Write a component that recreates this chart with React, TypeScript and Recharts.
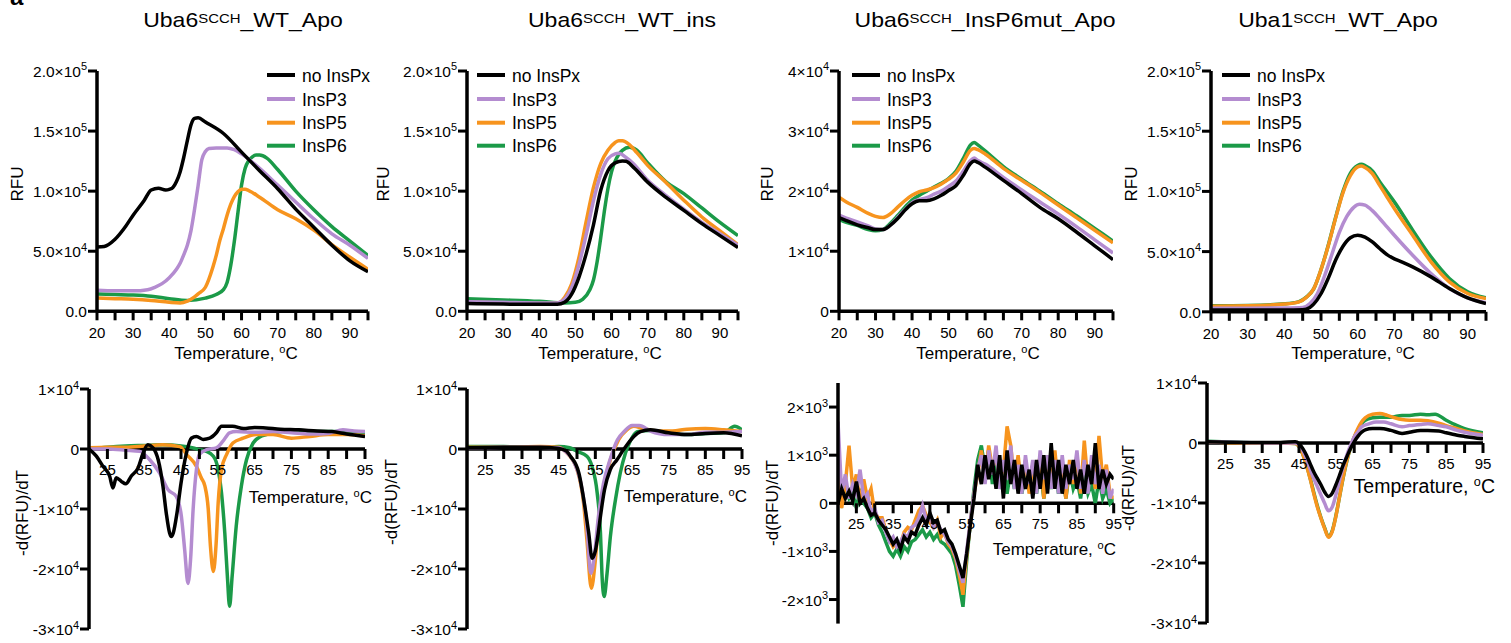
import React from 'react';
import { LineChart, Line, XAxis, YAxis, ReferenceLine } from 'recharts';

type Pt = [number, number];

const FONT = "'Liberation Sans', Arial, Helvetica, sans-serif";

// ---------- categories / labels ----------
const SERIES_NAMES = ['no InsPx', 'InsP3', 'InsP5', 'InsP6'];
const SERIES_COLORS = ['#000000', '#b48cd0', '#f7941e', '#1b9a48'];
const PANEL_TITLES: [string, string, string][] = [
  ['Uba6', 'SCCH', '_WT_Apo'],
  ['Uba6', 'SCCH', '_WT_ins'],
  ['Uba6', 'SCCH', '_InsP6mut_Apo'],
  ['Uba1', 'SCCH', '_WT_Apo'],
];
const X_LABEL = 'Temperature, ';
const TOP_X_TICKS = [20, 25, 30, 35, 40, 45, 50, 55, 60, 65, 70, 75, 80, 85, 90, 95];
const TOP_X_LABELS = [20, 30, 40, 50, 60, 70, 80, 90];
const BOTTOM_X_TICKS = [25, 30, 35, 40, 45, 50, 55, 60, 65, 70, 75, 80, 85, 90, 95];
const BOTTOM_X_LABELS = [25, 35, 45, 55, 65, 75, 85, 95];

const RFU_TICKS = [0, 50000, 100000, 150000, 200000];
const RFU_TICK_LABELS: [string, string][] = [['0.0', ''], ['5.0×10', '4'], ['1.0×10', '5'], ['1.5×10', '5'], ['2.0×10', '5']];
const MUT_RFU_TICKS = [0, 10000, 20000, 30000, 40000];
const MUT_RFU_TICK_LABELS: [string, string][] = [['0', ''], ['1×10', '4'], ['2×10', '4'], ['3×10', '4'], ['4×10', '4']];
const DERIV_TICKS = [-30000, -20000, -10000, 0, 10000];
const DERIV_TICK_LABELS: [string, string][] = [['-3×10', '4'], ['-2×10', '4'], ['-1×10', '4'], ['0', ''], ['1×10', '4']];
const MUT_DERIV_TICKS = [-2000, -1000, 0, 1000, 2000];
const MUT_DERIV_TICK_LABELS: [string, string][] = [['-2×10', '3'], ['-1×10', '3'], ['0', ''], ['1×10', '3'], ['2×10', '3']];

// ---------- Uba6 WT Apo : RFU ----------
const apoRfuNone: Pt[] = [[20,53500],[22,54000],[25,60000],[28,71000],[30,80000],[33,92000],[35,101000],[37,102500],[39,101000],[40,101500],[41,103000],[42,108000],[43,116000],[44,128000],[45,142000],[46,155000],[47,160500],[48,161000],[50,157500],[55,148000],[60,132500],[65,117000],[70,102000],[75,85000],[80,70000],[85,55000],[90,42000],[95,33000]];
const apoRfuP3: Pt[] = [[20,17500],[25,17000],[30,17000],[34,18000],[36,20000],[38,23000],[40,28000],[42,35000],[43,40000],[44,47000],[45,55000],[46,67000],[47,85000],[48,105000],[49,126000],[50,133000],[51,135500],[53,136000],[56,136000],[58,134500],[60,131000],[65,119000],[70,105000],[75,91000],[80,77000],[85,64500],[90,55000],[95,44000]];
const apoRfuP5: Pt[] = [[20,11000],[25,10500],[30,10000],[35,9000],[40,7500],[43,7000],[45,8500],[47,12000],[48,14500],[50,20000],[52,36000],[53,46500],[54,59000],[55,69000],[56,80000],[57,89000],[58,95500],[59,99500],[60,101500],[61,101500],[62,100500],[65,95000],[70,84500],[75,77000],[80,67500],[85,55500],[90,45000],[95,35000]];
const apoRfuP6: Pt[] = [[20,14500],[25,14000],[30,13500],[35,12500],[40,10500],[45,9000],[50,11000],[53,14000],[55,18000],[56,24000],[57,38000],[58,58000],[59,82000],[60,105000],[61,119000],[62,125500],[63,128500],[64,130000],[65,130000],[67,127500],[70,118000],[75,100000],[80,84500],[85,70500],[90,58500],[95,46500]];

// ---------- Uba6 WT Apo : -dRFU/dT ----------
const apoDerNone: Pt[] = [[20,0],[22,-1200],[23.8,-2900],[25.6,-4500],[26.5,-6500],[27.4,-4800],[28.8,-5400],[30,-5800],[31.5,-4500],[33.3,-3200],[34.7,-700],[36,700],[37.4,200],[38.8,-1800],[40.1,-6200],[41,-10700],[41.9,-14000],[42.4,-14600],[42.9,-14000],[43.9,-10700],[45,-5700],[46.4,-900],[47.8,1800],[49.2,2100],[51,1600],[52.8,1800],[54.6,2700],[56,3800],[59,3800],[62,3400],[65,3600],[68,3500],[72,3300],[77,3200],[82,3000],[86,2900],[90,2500],[95,2100]];
const apoDerP3: Pt[] = [[20,0],[25,0],[30,-200],[33.8,-400],[36.5,-1800],[39.2,-4000],[41.5,-6800],[43.7,-7900],[45.1,-11200],[46,-16800],[46.9,-22400],[47.6,-18400],[48.3,-10000],[49.2,-3400],[50,-900],[52,-100],[54.6,200],[56.4,1300],[58.2,2700],[60,2900],[65,2800],[70,2900],[75,2700],[80,2500],[85,2600],[89,3200],[92,3000],[95,2900]];
const apoDerP5: Pt[] = [[20,200],[25,300],[30,300],[35,500],[40,700],[44.7,400],[46.5,-900],[49.2,-2900],[50.5,-4800],[51.5,-6200],[52.4,-10000],[53,-16200],[53.8,-20400],[54.5,-16200],[55.1,-9000],[56,-3400],[57.4,-900],[59.1,1000],[61.9,1800],[65.5,2400],[70,2400],[75,1800],[80,2100],[85,2400],[90,2400],[95,2200]];
const apoDerP6: Pt[] = [[20,0],[25,300],[30,500],[35,600],[40,700],[45,500],[48,200],[50,-100],[51.9,-400],[53.8,-1200],[55.1,-3400],[56,-7300],[56.9,-14000],[57.6,-21200],[58.2,-26200],[58.9,-21200],[60,-12900],[61.4,-6200],[62.8,-1800],[64.6,1000],[66.4,2000],[68.2,2400],[72,2900],[76,3200],[80,2900],[85,2900],[90,2900],[95,2700]];

// ---------- Uba6 WT ins : RFU ----------
const insRfuNone: Pt[] = [[20,6500],[30,6000],[40,5800],[45,5800],[47,7500],[49,14500],[51,28500],[53,48000],[55,72000],[57,100500],[59,117000],[61,123500],[63,125000],[64,124800],[66,120000],[70,107500],[75,95000],[80,84000],[85,73000],[90,63000],[95,53000]];
const insRfuP3: Pt[] = [[20,8000],[30,7500],[40,7000],[45,7000],[47,10000],[49,20000],[51,39000],[53,64000],[55,92000],[57,114000],[59,127000],[61,131000],[62,131500],[64,128000],[66,123000],[70,109000],[75,96500],[80,85000],[85,74000],[90,64500],[95,55000]];
const insRfuP5: Pt[] = [[20,7500],[30,7000],[40,6500],[45,6800],[47,11500],[49,23000],[51,45000],[53,75000],[55,103000],[57,123000],[59,134000],[61,140500],[62,142000],[63,142000],[65,138500],[67,132000],[70,121500],[75,107500],[80,92500],[85,78500],[90,67000],[95,55500]];
const insRfuP6: Pt[] = [[20,10500],[30,9500],[40,8300],[47,7000],[50,7500],[52,10000],[54,18000],[55,26000],[56,41000],[57,61000],[58,83000],[59,102000],[60,116000],[61,125000],[62,130500],[63,134000],[65,136500],[67,134000],[70,123500],[75,108000],[80,98000],[85,86000],[90,74000],[95,63000]];

// ---------- Uba6 WT ins : -dRFU/dT ----------
const insDerNone: Pt[] = [[20,200],[30,300],[40,300],[45,100],[47,-300],[48.2,-1200],[50.5,-4000],[52.3,-10200],[53.2,-14000],[54.1,-18200],[55,-17000],[55.8,-14000],[56.4,-11200],[57.5,-6800],[59.1,-3400],[60.9,-1800],[62.7,-100],[65.5,2100],[67.3,2900],[70,3200],[75,2700],[80,2400],[85,2600],[90,2700],[95,2200]];
const insDerP3: Pt[] = [[20,200],[30,300],[40,300],[45,200],[47,-500],[49,-2000],[51,-5500],[52.5,-11500],[53.8,-20700],[54.8,-17500],[55.8,-11500],[57.2,-5800],[59,-1800],[61,1500],[63,3000],[65,3900],[67,3900],[70,3000],[75,2400],[80,2400],[85,2800],[90,2800],[95,2900]];
const insDerP5: Pt[] = [[20,300],[30,300],[40,400],[45,300],[47,-500],[50,-3400],[51.8,-9000],[52.7,-15100],[53.9,-23200],[55,-18500],[55.9,-11800],[57.3,-6200],[59.1,-1800],[61.4,1600],[63.6,3200],[65.5,3800],[68,3400],[72,3000],[76,3000],[80,3300],[85,3400],[90,3200],[95,2900]];
const insDerP6: Pt[] = [[20,400],[30,400],[40,300],[45,400],[48,200],[50,-400],[52.7,-1200],[54.1,-2900],[55.5,-7300],[56.4,-14000],[56.8,-20700],[57.4,-24600],[58.2,-20700],[59.1,-14600],[60.5,-8400],[61.8,-4000],[63.2,-700],[64.5,1300],[66.4,2900],[70,3100],[75,2700],[80,2400],[85,2600],[90,2700],[93,3800],[95,3200]];

// ---------- Uba6 InsP6mut Apo : RFU ----------
const mutRfuNone: Pt[] = [[20,15600],[22,15100],[25,14400],[28,13900],[30,13600],[32,13600],[34,14300],[36,15400],[38,16800],[40,17900],[42,18400],[44,18400],[46,18700],[48,19300],[50,20100],[52,20900],[54,22600],[56,24600],[57,25000],[58,24800],[60,24000],[65,21800],[70,19600],[75,17300],[80,15400],[85,13200],[90,10900],[95,8600]];
const mutRfuP3: Pt[] = [[20,16000],[22,15500],[25,14900],[28,14200],[30,13700],[32,13600],[34,14300],[36,15600],[38,16900],[40,18100],[42,18600],[44,18900],[46,19500],[48,20000],[50,20800],[52,21700],[54,23300],[56,25100],[57,25500],[58,25100],[60,24500],[65,22300],[70,20200],[75,18200],[80,16200],[85,14100],[90,11900],[95,9700]];
const mutRfuP5: Pt[] = [[20,19000],[22,18200],[25,17300],[28,16300],[30,15800],[32,15600],[34,16200],[36,17300],[38,18400],[40,19300],[42,19900],[44,20200],[46,20600],[48,21200],[50,22000],[52,23000],[54,24800],[56,26800],[57,27100],[58,26900],[60,26200],[65,23800],[70,21800],[75,19800],[80,17700],[85,15600],[90,13500],[95,11400]];
const mutRfuP6: Pt[] = [[20,15300],[22,14800],[25,14300],[28,13600],[30,13400],[32,13600],[34,14600],[36,15900],[38,17300],[40,18500],[42,19300],[44,20000],[46,20700],[48,21300],[50,22100],[52,23300],[54,25400],[56,27700],[57,28100],[58,27700],[60,26700],[65,24100],[70,22000],[75,20000],[80,17900],[85,15900],[90,13800],[95,11700]];

// ---------- Uba6 InsP6mut Apo : -dRFU/dT (1 °C readings) ----------
const MUT_DER_T = [20,21,22,23,24,25,26,27,28,29,30,31,32,33,34,35,36,37,38,39,40,41,42,43,44,45,46,47,48,49,50,51,52,53,54,55,56,57,58,59,60,61,62,63,64,65,66,67,68,69,70,71,72,73,74,75,76,77,78,79,80,81,82,83,84,85,86,87,88,89,90,91,92,93,94,95];
const mutDerNone = [0,300,100,250,50,450,0,100,-100,-250,-200,-350,-450,-550,-700,-850,-750,-950,-700,-800,-600,-650,-450,-300,-450,-200,-400,-350,-600,-550,-750,-850,-1050,-1300,-1550,-1050,-450,100,800,400,1000,500,900,300,1000,100,1100,400,900,200,800,300,700,100,900,300,1000,200,1250,300,900,200,800,400,900,300,700,200,800,400,1250,300,700,400,600,500];
const mutDerP3 = [1700,200,600,100,400,200,700,100,200,-200,-100,-400,-350,-600,-800,-700,-900,-800,-650,-700,-500,-450,-300,-50,-350,-300,-500,-400,-550,-650,-800,-900,-1100,-1400,-1650,-1000,-350,200,700,1000,400,1100,600,1200,300,900,500,1200,300,800,200,1000,400,900,200,1100,500,1000,300,900,200,1000,300,800,500,1100,300,900,200,1000,400,800,200,700,100,300];
const mutDerP5 = [800,-100,400,1200,300,600,0,500,100,300,-200,-300,-300,-550,-750,-900,-800,-850,-600,-500,-550,-350,-150,-50,-250,-400,-500,-350,-700,-600,-850,-950,-1150,-1500,-1900,-1100,-400,200,600,1100,500,1200,700,1000,500,700,1600,1200,400,1000,300,900,200,800,500,1000,100,800,400,1100,300,700,100,900,400,1000,200,1300,400,800,300,1400,500,800,200,100];
const mutDerP6 = [200,0,300,100,200,-100,300,0,-100,-300,-200,-450,-600,-800,-1000,-1100,-950,-1100,-900,-1000,-800,-750,-650,-550,-700,-600,-750,-650,-800,-850,-950,-1050,-1300,-1700,-2150,-1200,-400,300,900,1200,700,1100,400,900,300,800,200,700,300,900,200,600,300,800,200,700,100,600,300,800,200,600,100,700,300,500,100,600,200,400,0,500,100,300,0,100];

// ---------- Uba1 WT Apo : RFU ----------
const uba1RfuNone: Pt[] = [[20,1500],[30,1500],[40,1500],[45,1800],[46,2200],[48,6400],[50,15000],[52,28000],[54,43000],[56,54500],[58,61500],[60,63600],[62,62000],[64,58000],[66,52600],[68,47500],[70,44000],[72,41500],[75,37300],[80,29000],[85,19400],[90,11600],[95,6900]];
const uba1RfuP3: Pt[] = [[20,3000],[30,3000],[40,3200],[45,3600],[47,6900],[49,15000],[51,30000],[53,48000],[55,66000],[57,79000],[59,87000],[60.5,89400],[62,88500],[64,84000],[66,77500],[68,70500],[70,63600],[75,47000],[80,31800],[85,19400],[90,11600],[95,7500]];
const uba1RfuP5: Pt[] = [[20,4700],[30,5000],[40,6400],[44,8300],[46,12000],[48,19000],[50,35000],[52,55000],[54,78000],[56,99000],[58,113000],[60,120300],[61,121000],[62,119800],[64,114800],[66,105000],[68,95400],[70,85800],[75,63600],[80,41500],[85,24900],[90,15200],[95,11000]];
const uba1RfuP6: Pt[] = [[20,5000],[30,5300],[40,6600],[44,8500],[46,12200],[48,19000],[50,35000],[52,55500],[54,78500],[56,100000],[58,115000],[60,121500],[61,122500],[62,121500],[64,117000],[66,108000],[68,99600],[70,91300],[75,67800],[80,45600],[85,27700],[90,16600],[95,11600]];

// ---------- Uba1 WT Apo : -dRFU/dT ----------
const uba1DerNone: Pt[] = [[20,200],[30,100],[40,100],[44,200],[45,-100],[46,-900],[47,-2000],[48,-3400],[49,-4800],[50,-5900],[51,-7000],[52,-8200],[53,-8900],[54,-8400],[55,-7000],[56,-5400],[57,-3700],[58,-2300],[59,-900],[60,200],[61,1100],[62,1800],[63,2200],[65,2400],[67,2400],[70,2100],[73,1600],[75,1800],[78,2100],[80,2100],[83,2000],[85,1700],[88,1300],[90,1100],[95,700]];
const uba1DerP3: Pt[] = [[20,200],[30,100],[40,0],[44,0],[45,-300],[46,-1200],[47,-2600],[48,-4300],[49,-5900],[50,-7300],[51,-8700],[52,-10100],[53,-11300],[54,-10700],[55,-8700],[56,-6200],[57,-4000],[58,-2000],[59,-400],[60,1000],[61,1800],[62,2700],[64,3200],[66,3500],[68,3500],[70,3200],[73,2700],[75,2900],[78,3100],[80,3200],[83,2900],[85,2700],[88,2100],[90,1800],[95,1300]];
const uba1DerP5: Pt[] = [[20,200],[30,0],[40,0],[44,-100],[45,-600],[46,-1800],[47,-3700],[48,-5900],[49,-8400],[50,-10700],[51,-12600],[52,-14300],[53,-15700],[54,-14800],[55,-12300],[56,-9000],[57,-5700],[58,-2900],[59,-700],[60,1000],[61,2400],[62,3500],[63,4200],[65,4800],[67,4900],[69,4600],[71,4200],[73,3900],[75,3800],[78,3800],[80,3700],[83,3300],[85,2900],[88,2400],[90,2000],[95,1400]];
const uba1DerP6: Pt[] = [[20,300],[30,100],[40,0],[44,-100],[45,-600],[46,-1800],[47,-3600],[48,-5800],[49,-8200],[50,-10500],[51,-12500],[52,-14200],[53,-15600],[54,-14700],[55,-12200],[56,-9000],[57,-5800],[58,-3000],[59,-800],[60,900],[61,2200],[62,3200],[63,3800],[65,4200],[67,4300],[70,4300],[73,4600],[75,4600],[78,4800],[80,4700],[82,4800],[85,3800],[88,2900],[90,2400],[95,1700]];

// ---------- helpers ----------
const zip = (t: number[], v: number[]): Pt[] => t.map((x, i) => [x, v[i]] as Pt);

type Box = { x0: number; x1: number; y0: number; y1: number };
type PanelProps = {
  box: Box;
  yDomain: [number, number];
  yTicks: number[];
  yLabels: [string, string][];
  series: Pt[][]; // order: none, P3, P5, P6
  deriv: boolean;
  curve: 'monotone' | 'linear';
};

const PAD_L = 100, PAD_R = 15, PAD_T = 15, PAD_B = 45, XH = 30;

function makeYTick(ticks: number[], labels: [string, string][]) {
  return (props: any) => {
    const { x, y, payload } = props;
    const i = ticks.indexOf(payload.value);
    if (i < 0) return <g />;
    const [main, sup] = labels[i];
    return (
      <text x={x} y={y + 6} textAnchor="end" fontSize={15.5} fill="#000" fontFamily={FONT}>
        {main}
        {sup ? <tspan fontSize={11} dy={-6.5}>{sup}</tspan> : null}
      </text>
    );
  };
}

function makeTopXTick() {
  return (props: any) => {
    const { x, y, payload } = props;
    if (!TOP_X_LABELS.includes(payload.value)) return <g />;
    return (
      <text x={x} y={y + 16} textAnchor="middle" fontSize={15} fill="#000" fontFamily={FONT}>
        {payload.value}
      </text>
    );
  };
}

function makeZeroXTick(zeroY: number) {
  return (props: any) => {
    const { x, payload } = props;
    return (
      <g>
        <line x1={x} x2={x} y1={zeroY} y2={zeroY + 10} stroke="#000" strokeWidth={3} />
        {BOTTOM_X_LABELS.includes(payload.value) ? (
          <text x={x} y={zeroY + 26} textAnchor="middle" fontSize={15} fill="#000" fontFamily={FONT}>
            {payload.value}
          </text>
        ) : null}
      </g>
    );
  };
}

function Panel({ box, yDomain, yTicks, yLabels, series, deriv, curve }: PanelProps) {
  const w = box.x1 - box.x0;
  const h = box.y1 - box.y0;
  const left = box.x0 - PAD_L;
  const top = box.y0 - PAD_T;
  const zeroLocal = PAD_T + ((yDomain[1] - 0) / (yDomain[1] - yDomain[0])) * h;
  const drawOrder = [3, 2, 1, 0];
  return (
    <div style={{ position: 'absolute', left, top }}>
      <LineChart
        width={w + PAD_L + PAD_R}
        height={h + PAD_T + PAD_B}
        margin={{ top: PAD_T, right: PAD_R, bottom: PAD_B - XH, left: 0 }}
      >
        <XAxis
          type="number"
          dataKey="t"
          domain={[20, 95]}
          ticks={deriv ? BOTTOM_X_TICKS : TOP_X_TICKS}
          interval={0}
          height={XH}
          allowDataOverflow
          axisLine={deriv ? false : { stroke: '#000', strokeWidth: 3.5 }}
          tickLine={deriv ? false : { stroke: '#000', strokeWidth: 3 }}
          tickSize={deriv ? 0 : 9}
          tickMargin={2}
          tick={deriv ? makeZeroXTick(zeroLocal) : makeTopXTick()}
        />
        <YAxis
          type="number"
          domain={yDomain}
          ticks={yTicks}
          interval={0}
          width={PAD_L}
          allowDataOverflow
          axisLine={{ stroke: '#000', strokeWidth: 3.5 }}
          tickLine={{ stroke: '#000', strokeWidth: 3 }}
          tickSize={9}
          tickMargin={1}
          tick={makeYTick(yTicks, yLabels)}
        />
        {deriv ? <ReferenceLine y={0} stroke="#000" strokeWidth={3.5} /> : null}
        {drawOrder.map((i) => (
          <Line
            key={SERIES_NAMES[i]}
            name={SERIES_NAMES[i]}
            data={series[i].map(([t, v]) => ({ t, v }))}
            dataKey="v"
            type={curve}
            stroke={SERIES_COLORS[i]}
            strokeWidth={3.5}
            dot={false}
            activeDot={false}
            isAnimationActive={false}
          />
        ))}
      </LineChart>
    </div>
  );
}

const TOP_BOXES: Box[] = [
  { x0: 97, x1: 368, y0: 70.7, y1: 311 },
  { x0: 467, x1: 738, y0: 70.7, y1: 311 },
  { x0: 839, x1: 1113, y0: 70.7, y1: 311 },
  { x0: 1211, x1: 1486, y0: 70.7, y1: 311.5 },
];
const BOTTOM_BOXES: Box[] = [
  { x0: 89, x1: 365, y0: 389.3, y1: 629.3 },
  { x0: 467, x1: 742, y0: 389.3, y1: 629.3 },
  { x0: 838.3, x1: 1114, y0: 382.7, y1: 623.3 },
  { x0: 1207.3, x1: 1483.3, y0: 382.7, y1: 622.7 },
];

const TITLE_X = [243, 622, 985, 1338];
const TOP_XLABEL_X = [236, 600, 978, 1353];
const RFU_LABEL_X = [17, 383, 767, 1131];
const DER_LABEL_POS: [number, number][] = [[22, 513], [391, 502], [772, 503], [1128, 488]];
const BOTTOM_XLABEL: [number, number, number][] = [[372, 503, 17], [747, 502, 17], [1116, 555, 17], [1495, 493, 19.5]];
const LEGEND_X = [267, 477, 852, 1222];
const LEGEND_ROWS = [75, 99, 122.7, 145.7];

function TempLabel({ x, y, size, anchor }: { x: number; y: number; size: number; anchor: 'middle' | 'end' }) {
  return (
    <text x={x} y={y} textAnchor={anchor} fontSize={size} fill="#000">
      {X_LABEL}
      <tspan fontSize={size * 0.65} dy={-size * 0.36}>o</tspan>
      <tspan fontSize={size} dy={size * 0.36}>C</tspan>
    </text>
  );
}

export default function App() {
  return (
    <div style={{ position: 'absolute', left: 0, top: 0, width: 1511, height: 643, background: '#fff', overflow: 'hidden', fontFamily: FONT }}>
      <Panel box={TOP_BOXES[0]} yDomain={[0, 200000]} yTicks={RFU_TICKS} yLabels={RFU_TICK_LABELS} series={[apoRfuNone, apoRfuP3, apoRfuP5, apoRfuP6]} deriv={false} curve="monotone" />
      <Panel box={TOP_BOXES[1]} yDomain={[0, 200000]} yTicks={RFU_TICKS} yLabels={RFU_TICK_LABELS} series={[insRfuNone, insRfuP3, insRfuP5, insRfuP6]} deriv={false} curve="monotone" />
      <Panel box={TOP_BOXES[2]} yDomain={[0, 40000]} yTicks={MUT_RFU_TICKS} yLabels={MUT_RFU_TICK_LABELS} series={[mutRfuNone, mutRfuP3, mutRfuP5, mutRfuP6]} deriv={false} curve="monotone" />
      <Panel box={TOP_BOXES[3]} yDomain={[0, 200000]} yTicks={RFU_TICKS} yLabels={RFU_TICK_LABELS} series={[uba1RfuNone, uba1RfuP3, uba1RfuP5, uba1RfuP6]} deriv={false} curve="monotone" />

      <Panel box={BOTTOM_BOXES[0]} yDomain={[-30000, 10000]} yTicks={DERIV_TICKS} yLabels={DERIV_TICK_LABELS} series={[apoDerNone, apoDerP3, apoDerP5, apoDerP6]} deriv curve="monotone" />
      <Panel box={BOTTOM_BOXES[1]} yDomain={[-30000, 10000]} yTicks={DERIV_TICKS} yLabels={DERIV_TICK_LABELS} series={[insDerNone, insDerP3, insDerP5, insDerP6]} deriv curve="monotone" />
      <Panel box={BOTTOM_BOXES[2]} yDomain={[-2500, 2500]} yTicks={MUT_DERIV_TICKS} yLabels={MUT_DERIV_TICK_LABELS} series={[zip(MUT_DER_T, mutDerNone), zip(MUT_DER_T, mutDerP3), zip(MUT_DER_T, mutDerP5), zip(MUT_DER_T, mutDerP6)]} deriv curve="linear" />
      <Panel box={BOTTOM_BOXES[3]} yDomain={[-30000, 10000]} yTicks={DERIV_TICKS} yLabels={DERIV_TICK_LABELS} series={[uba1DerNone, uba1DerP3, uba1DerP5, uba1DerP6]} deriv curve="monotone" />

      <svg width={1511} height={643} style={{ position: 'absolute', left: 0, top: 0, pointerEvents: 'none' }} fontFamily={FONT}>
        <text x={10} y={5} fontSize={24} fontWeight="bold" fill="#000">a</text>
        {PANEL_TITLES.map((t, i) => (
          <text key={'title' + i} transform={`translate(${TITLE_X[i]} 26.7) scale(1.15 1)`} textAnchor="middle" fontSize={20} fill="#000">
            {t[0]}
            <tspan fontSize={13} dy={-4}>{t[1]}</tspan>
            <tspan fontSize={20} dy={4}>{t[2]}</tspan>
          </text>
        ))}
        {TOP_XLABEL_X.map((x, i) => (
          <TempLabel key={'txl' + i} x={x} y={359} size={17} anchor="middle" />
        ))}
        {BOTTOM_XLABEL.map(([x, y, s], i) => (
          <TempLabel key={'bxl' + i} x={x} y={y} size={s} anchor="end" />
        ))}
        {RFU_LABEL_X.map((x, i) => (
          <text key={'rfu' + i} transform={`translate(${x + 6} 184) rotate(-90)`} textAnchor="middle" fontSize={17} fill="#000">RFU</text>
        ))}
        {DER_LABEL_POS.map(([x, y], i) => (
          <text key={'der' + i} transform={`translate(${x + 6} ${y}) rotate(-90)`} textAnchor="middle" fontSize={17} fill="#000">-d(RFU)/dT</text>
        ))}
        {LEGEND_X.map((lx, p) =>
          SERIES_NAMES.map((name, i) => (
            <g key={'lg' + p + '-' + i}>
              <line x1={lx} x2={lx + 28} y1={LEGEND_ROWS[i]} y2={LEGEND_ROWS[i]} stroke={SERIES_COLORS[i]} strokeWidth={4} />
              <text x={lx + 35} y={LEGEND_ROWS[i] + 6.5} fontSize={17.5} fill="#000">{name}</text>
            </g>
          ))
        )}
      </svg>
    </div>
  );
}
